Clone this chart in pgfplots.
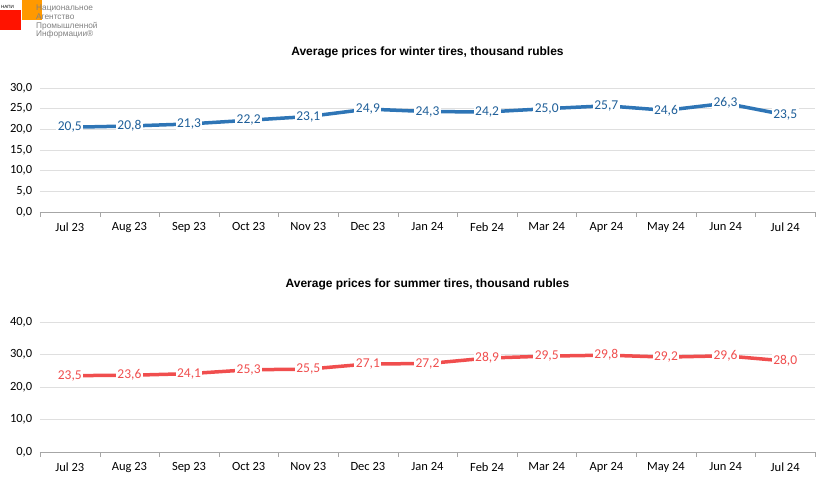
\documentclass[border=0pt]{standalone}
\usepackage{pgfplots}
\pgfplotsset{compat=1.18}
\usepackage{fontspec}
\setmainfont{Carlito}
\newfontfamily\arial{Liberation Sans}
\definecolor{wblue}{HTML}{2E75B6}
\definecolor{sred}{HTML}{F04E4E}
\definecolor{lab}{HTML}{1F5F99}
\pgfplotsset{
 common/.style={
  scale only axis, width=775pt, xmin=-0.5, xmax=12.5,
  xtick={0,...,12},
  xticklabels={Jul 23,Aug 23,Sep 23,Oct 23,Nov 23,Dec 23,Jan 24,Feb 24,Mar 24,Apr 24,May 24,Jun 24,Jul 24},
  minor xtick={-0.5,0.5,...,12.5},
  major x tick style={draw=none},
  minor x tick style={draw=gray!70},
  minor tick length=5pt,
  tick align=outside, xtick pos=bottom, ytick pos=left,
  axis x line*=bottom, axis y line*=left,
  x axis line style={gray!70,-}, y axis line style={draw=none},
  ymajorgrids, grid style={gray!25},
  ytick style={draw=none},
  /pgf/number format/fixed, /pgf/number format/fixed zerofill,
  /pgf/number format/precision=1, /pgf/number format/use comma,
  /pgf/number format/assume math mode=true,
  tick label style={font=\fontsize{12.5}{13}\selectfont, text=black},
  xticklabel style={yshift=-3pt},
  nodes near coords,
  every node near coord/.append style={anchor=center, fill=white, inner sep=1.5pt, font=\fontsize{13.5}{14}\selectfont},
  title style={font=\arial\bfseries\fontsize{12}{13}\selectfont},
  clip=false,
 }}
\begin{document}
\begin{tikzpicture}
\path (0pt,0pt) rectangle (822pt,483pt);
\fill[red!85!orange] (0pt,453pt) rectangle (21pt,473pt);
\fill[orange!80!yellow] (22pt,463pt) rectangle (42pt,483pt);
\node[anchor=west,inner sep=0,font=\arial\fontsize{4.5}{4.5}\selectfont] at (1pt,476pt) {НАПИ};
\node[anchor=north west,align=left,inner sep=0,text=gray,font=\arial\fontsize{8.3}{8.6}\selectfont] at (36pt,478pt) {Национальное\\Агентство\\Промышленной\\Информации®};
\begin{axis}[common, at={(40pt,271pt)}, anchor=south west, height=124pt, ymin=0, ymax=30, ytick={0,5,...,30},
  title={Average prices for winter tires, thousand rubles}, title style={at={(0.5,1)},yshift=20pt}]
\addplot[wblue, line width=3.5pt, nodes near coords style={text=lab}] coordinates {(0,20.5)(1,20.8)(2,21.3)(3,22.2)(4,23.1)(5,24.9)(6,24.3)(7,24.2)(8,25.0)(9,25.7)(10,24.6)(11,26.3)(12,23.5)};
\end{axis}
\begin{axis}[common, at={(40pt,31pt)}, anchor=south west, height=130pt, ymin=0, ymax=40, ytick={0,10,...,40},
  title={Average prices for summer tires, thousand rubles}, title style={at={(0.5,1)},yshift=22pt}]
\addplot[sred, line width=3.5pt, nodes near coords style={text=sred}] coordinates {(0,23.5)(1,23.6)(2,24.1)(3,25.3)(4,25.5)(5,27.1)(6,27.2)(7,28.9)(8,29.5)(9,29.8)(10,29.2)(11,29.6)(12,28.0)};
\end{axis}
\end{tikzpicture}
\end{document}
